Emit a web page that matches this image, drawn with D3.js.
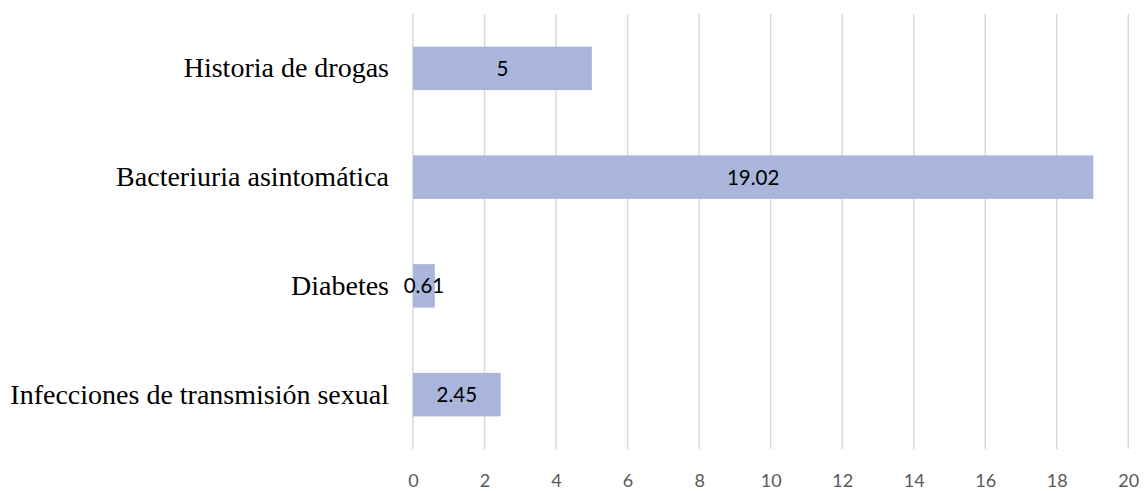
<!DOCTYPE html>
<html>
<head>
<meta charset="utf-8">
<script src="https://cdn.jsdelivr.net/npm/d3@7"></script>
<style>
  body { margin: 0; background: #fff; }
</style>
</head>
<body>
<div id="chart"></div>
<script>
const categories = ['Historia de drogas', 'Bacteriuria asintomática', 'Diabetes', 'Infecciones de transmisión sexual'];
const values = [5, 19.02, 0.61, 2.45];
const valueLabels = ['5', '19.02', '0.61', '2.45'];
const xTicks = [0, 2, 4, 6, 8, 10, 12, 14, 16, 18, 20];

const width = 1144, height = 491;
const margin = { top: 14, right: 16, bottom: 42, left: 413 };
const innerW = 1128.3 - margin.left;
const innerH = 449 - margin.top;

const svg = d3.select('#chart').append('svg')
  .attr('width', width)
  .attr('height', height);

const g = svg.append('g').attr('transform', `translate(${margin.left},${margin.top})`);

const x = d3.scaleLinear().domain([0, 20]).range([0, innerW]);
const y = d3.scaleBand().domain(categories).range([0, innerH]).paddingInner(0.6).paddingOuter(0.3);

// gridlines
g.selectAll('line.grid')
  .data(xTicks)
  .enter()
  .append('line')
  .attr('class', 'grid')
  .attr('x1', d => x(d))
  .attr('x2', d => x(d))
  .attr('y1', 0)
  .attr('y2', innerH)
  .attr('stroke', '#d9d9d9')
  .attr('stroke-width', 1.5);

// bars
g.selectAll('rect')
  .data(values)
  .enter()
  .append('rect')
  .attr('x', x(0))
  .attr('y', (d, i) => y(categories[i]))
  .attr('width', d => x(d) - x(0))
  .attr('height', y.bandwidth())
  .attr('fill', '#a9b5da');

// value labels
g.selectAll('text.val')
  .data(values)
  .enter()
  .append('text')
  .attr('class', 'val')
  .attr('x', d => x(d / 2))
  .attr('y', (d, i) => y(categories[i]) + y.bandwidth() / 2)
  .attr('dy', '0.36em')
  .attr('text-anchor', 'middle')
  .style('font-family', 'Lato, "Open Sans", sans-serif')
  .style('font-size', '20.5px')
  .attr('fill', '#000')
  .text((d, i) => valueLabels[i]);

// category axis
const yAxis = g.append('g')
  .call(d3.axisLeft(y).tickSize(0).tickPadding(24));
yAxis.select('.domain').remove();
yAxis.selectAll('text')
  .style('font-family', '"Liberation Serif", "Times New Roman", serif')
  .style('font-size', '28px')
  .attr('fill', '#000');

// value axis
const xAxis = g.append('g')
  .attr('transform', `translate(0,${innerH})`)
  .call(d3.axisBottom(x).tickValues(xTicks).tickSize(0).tickPadding(25).tickFormat(d3.format('d')));
xAxis.select('.domain').remove();
xAxis.selectAll('text')
  .style('font-family', 'Lato, "Open Sans", sans-serif')
  .style('font-size', '18px')
  .attr('fill', '#595959');
</script>
</body>
</html>
